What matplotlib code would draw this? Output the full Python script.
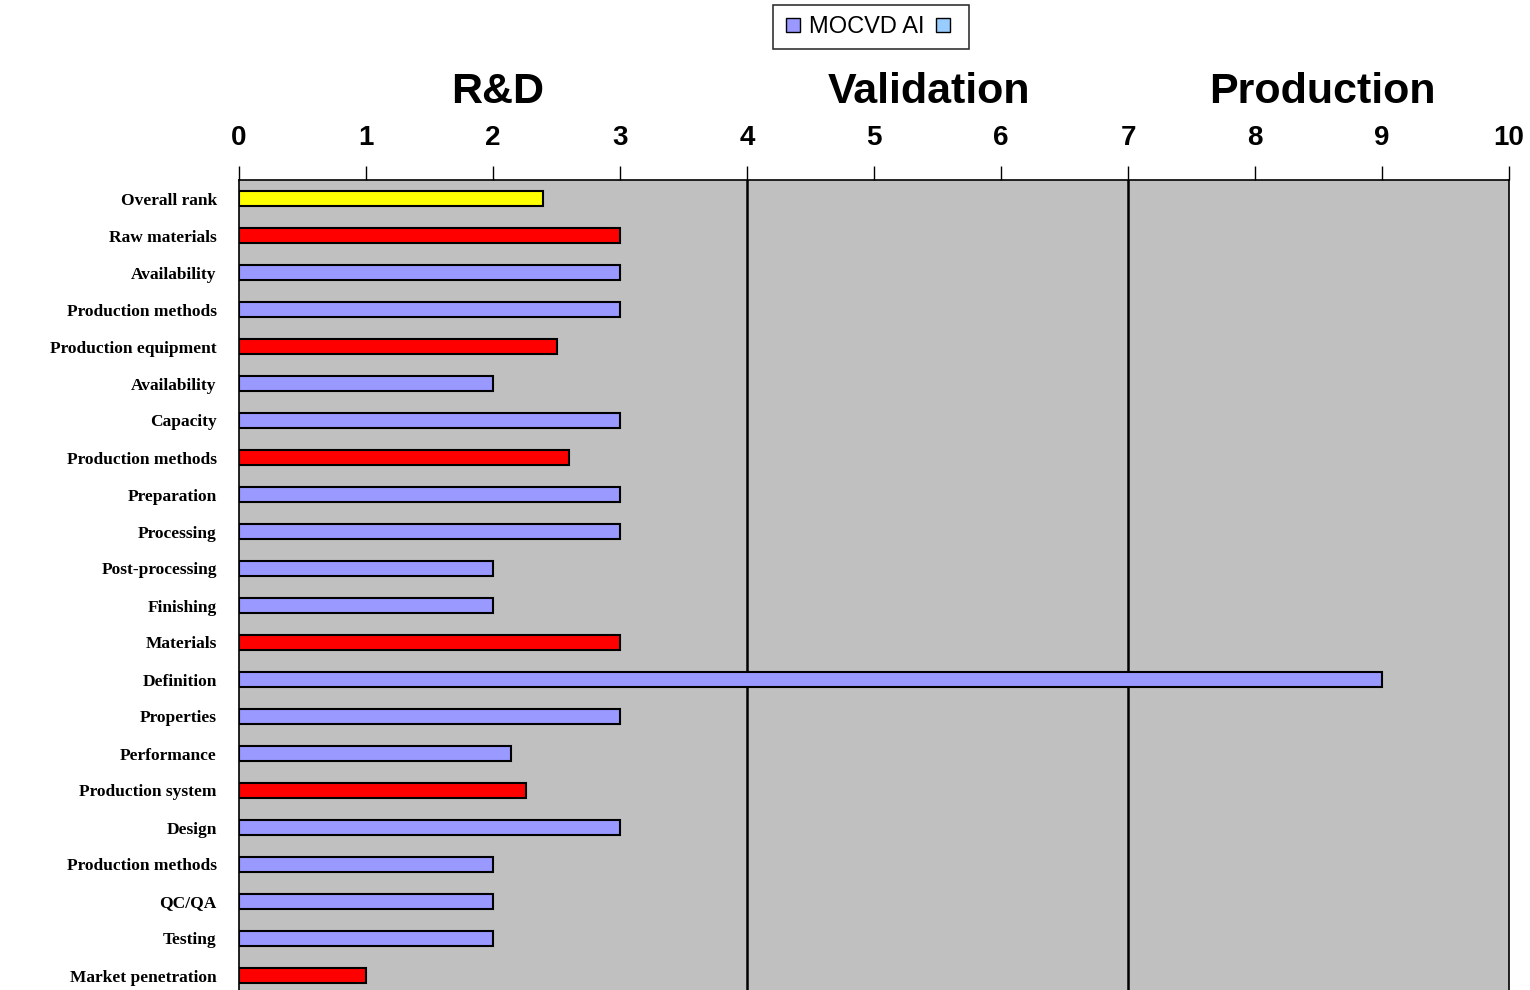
import matplotlib
matplotlib.use("Agg")
import matplotlib.pyplot as plt
from matplotlib.lines import Line2D

categories = ["Overall rank", "Raw materials", "Availability", "Production methods",
              "Production equipment", "Availability", "Capacity", "Production methods",
              "Preparation", "Processing", "Post-processing", "Finishing", "Materials",
              "Definition", "Properties", "Performance", "Production system", "Design",
              "Production methods", "QC/QA", "Testing", "Market penetration"]
values = [2.39, 3, 3, 3, 2.5, 2, 3, 2.6, 3, 3, 2, 2, 3, 9.0, 3, 2.14, 2.26, 3, 2, 2, 2, 1.0]
kinds = ["overall", "group", "item", "item", "group", "item", "item", "group", "item", "item",
         "item", "item", "group", "item", "item", "item", "group", "item", "item", "item", "item", "group"]
phases = ["R&D", "Validation", "Production"]
phase_pos = [2.04, 5.43, 8.53]
phase_bounds = [4, 7]
series_name = "MOCVD AI"

color_map = {"overall": "#FFFF00", "group": "#FF0000", "item": "#9999FF"}

fig = plt.figure(figsize=(15.3, 9.9), dpi=100)
ax = fig.add_axes([239/1530, -4/990, 1270/1530, 814/990])
ax.set_facecolor("#C0C0C0")

y = list(range(len(categories)))
ax.barh(y, values, height=0.42, color=[color_map[k] for k in kinds],
        edgecolor="black", linewidth=1.5, zorder=3)
for b in phase_bounds:
    ax.axvline(b, color="black", linewidth=1.8, zorder=2)

ax.set_xlim(0, 10)
ax.set_ylim(len(categories) - 0.5, -0.5)
ax.xaxis.tick_top()
ax.set_xticks(range(0, 11))
ax.tick_params(axis="x", direction="out", length=10, width=1, pad=11, labelsize=20)
for lbl in ax.get_xticklabels():
    lbl.set_fontweight("bold")
    lbl.set_fontfamily("Liberation Sans")
ax.set_yticks(y)
ax.set_yticklabels(categories, fontfamily="Liberation Serif", fontweight="bold", fontsize=12.5)
ax.tick_params(axis="y", length=0, pad=16)
for s in ["top", "left", "right", "bottom"]:
    ax.spines[s].set_color("black")
    ax.spines[s].set_linewidth(1.2)

for name, pos in zip(phases, phase_pos):
    ax.text(pos, 1.108, name, transform=ax.get_xaxis_transform(), ha="center", va="center",
            fontsize=31, fontweight="bold", fontfamily="Liberation Sans")

handles = [Line2D([], [], linestyle="none", marker="s", markersize=10,
                  markerfacecolor="#9999FF", markeredgecolor="black"),
           Line2D([], [], linestyle="none", marker="s", markersize=10,
                  markerfacecolor="#99CCFF", markeredgecolor="black")]
leg = fig.legend(handles, [series_name, ""], loc="center", bbox_to_anchor=(871/1530, 1 - 27/990),
                 ncol=2, frameon=True, fancybox=False, edgecolor="black",
                 prop={"family": "Liberation Sans", "size": 17}, handletextpad=0.25,
                 columnspacing=0.4, handlelength=0.8, borderpad=0.45)
leg.get_frame().set_linewidth(1.2)

fig.savefig("out.png", dpi=100)
